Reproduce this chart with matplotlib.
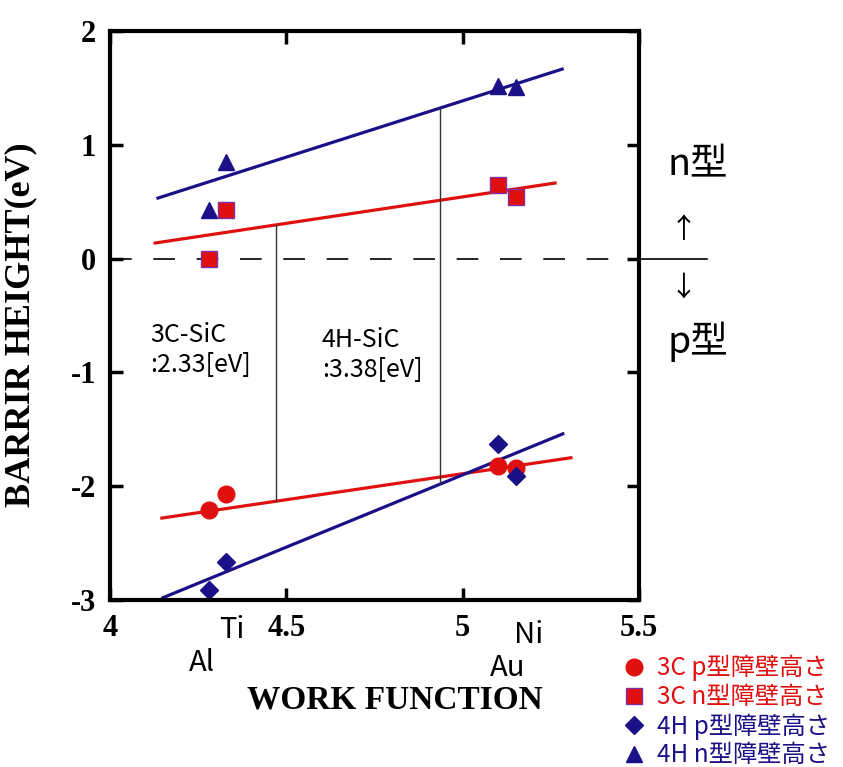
import matplotlib.pyplot as plt
import numpy as np

# work functions of the metals (Al, Ti, Au, Ni)
metals = ['Al', 'Ti', 'Au', 'Ni']
wf = np.array([4.28, 4.33, 5.10, 5.15])

# barrier heights (eV)
p_3c = np.array([-2.21, -2.07, -1.82, -1.84])
n_3c = np.array([0.00, 0.43, 0.65, 0.54])
p_4h = np.array([-2.91, -2.67, -1.63, -1.91])
n_4h = np.array([0.43, 0.85, 1.52, 1.51])

# fitted lines (start/end)
fit_x_3c_n = [4.128, 5.262]
fit_y_3c_n = [0.137, 0.664]
fit_x_3c_p = [4.147, 5.307]
fit_y_3c_p = [-2.28, -1.75]
fit_x_4h_n = [4.136, 5.282]
fit_y_4h_n = [0.532, 1.665]
fit_x_4h_p = [4.150, 5.284]
fit_y_4h_p = [-2.98, -1.54]

# band gap markers
gap_x_3c = 4.471
gap_x_4h = 4.936

red = '#e01010'
blue = '#1c1088'
jp = 'Noto Sans CJK JP'
serif = 'Liberation Serif'

fig = plt.figure(figsize=(8.43, 7.67), dpi=100)
ax = fig.add_axes([110/843, 1-600/767, 529/843, 569/767])

# fit lines
ax.plot(fit_x_4h_n, fit_y_4h_n, color=blue, lw=2.3)
ax.plot(fit_x_3c_n, fit_y_3c_n, color=red, lw=2.3)
ax.plot(fit_x_3c_p, fit_y_3c_p, color=red, lw=2.3)
ax.plot(fit_x_4h_p, fit_y_4h_p, color=blue, lw=2.3)

# band gap vertical lines between fits
ax.plot([gap_x_3c, gap_x_3c],
        [np.interp(gap_x_3c, fit_x_3c_n, fit_y_3c_n), np.interp(gap_x_3c, fit_x_3c_p, fit_y_3c_p)],
        color='#333333', lw=1.0)
ax.plot([gap_x_4h, gap_x_4h],
        [np.interp(gap_x_4h, fit_x_4h_n, fit_y_4h_n), np.interp(gap_x_4h, fit_x_4h_p, fit_y_4h_p)],
        color='#333333', lw=1.0)

# zero line, dashed inside, solid outside
ax.plot([4, 5.5], [0, 0], color='black', lw=1.2, dashes=(13, 13))
ax.plot([5.5, 5.693], [0, 0], color='black', lw=1.2, clip_on=False)

# data points
h1, = ax.plot(wf, p_3c, ls='none', marker='o', ms=12, color=red, mec=red)
h2, = ax.plot(wf, n_3c, ls='none', marker='s', ms=11.5, color=red, mec='#8030a0', mew=1.0)
h3, = ax.plot(wf, p_4h, ls='none', marker='D', ms=9, color=blue, mec=blue)
h4, = ax.plot(wf, n_4h, ls='none', marker='^', ms=12, color=blue, mec=blue)

ax.set_xlim(4, 5.5)
ax.set_ylim(-3, 2)
ax.set_xticks([4, 4.5, 5, 5.5])
ax.set_xticklabels(['4', '4.5', '5', '5.5'])
ax.set_yticks([-3, -2, -1, 0, 1, 2])
ax.set_yticklabels(['-3', '-2', '-1', '0', '1', '2'])
ax.tick_params(direction='in', top=True, right=True, length=9, width=2.5, pad=10)
for lab in ax.get_xticklabels() + ax.get_yticklabels():
    lab.set_fontfamily(serif)
    lab.set_fontweight('bold')
    lab.set_fontsize(22)
for sp in ax.spines.values():
    sp.set_linewidth(3)

ax.set_xlabel('WORK FUNCTION', fontfamily=serif, fontweight='bold', fontsize=24)
ax.set_ylabel('BARRIR HEIGHT(eV)', fontfamily=serif, fontweight='bold', fontsize=26)
ax.xaxis.set_label_coords(0.539, -0.148)
ax.yaxis.set_label_coords(-0.137, 0.483)

# metal names under the axis
metal_pos = {'Al': (202, 663), 'Ti': (232, 630), 'Au': (508, 668), 'Ni': (529, 635)}
for m in metals:
    px, py = metal_pos[m]
    fig.text(px/843, 1-py/767, m, family=jp, fontsize=21, ha='center', va='center')

# band gap labels
ax.text(4.113, -0.80, '3C-SiC\n:2.33[eV]', family=jp, fontsize=18, ha='left', va='center', linespacing=1.2)
ax.text(4.601, -0.85, '4H-SiC\n:3.38[eV]', family=jp, fontsize=18, ha='left', va='center', linespacing=1.2)

# n/p type notes on the right
fig.text(698/843, 1-165/767, 'n型', family=jp, fontsize=27, ha='center', va='center')
fig.text(683/843, 1-230/767, '↑', family=jp, fontsize=20, ha='center', va='center')
fig.text(683/843, 1-288/767, '↓', family=jp, fontsize=20, ha='center', va='center')
fig.text(698/843, 1-342/767, 'p型', family=jp, fontsize=27, ha='center', va='center')

labels = ['3C p型障壁高さ', '3C n型障壁高さ', '4H p型障壁高さ', '4H n型障壁高さ']
fig.legend([h1, h2, h3, h4], labels, loc='upper left',
           bbox_to_anchor=(622/843, 1-655/767), frameon=False,
           prop={'family': jp, 'size': 17.5}, handlelength=1.0, handletextpad=0.45,
           labelspacing=0.12, borderpad=0, borderaxespad=0,
           labelcolor=[red, red, blue, blue])

fig.savefig('out.png', dpi=100)
